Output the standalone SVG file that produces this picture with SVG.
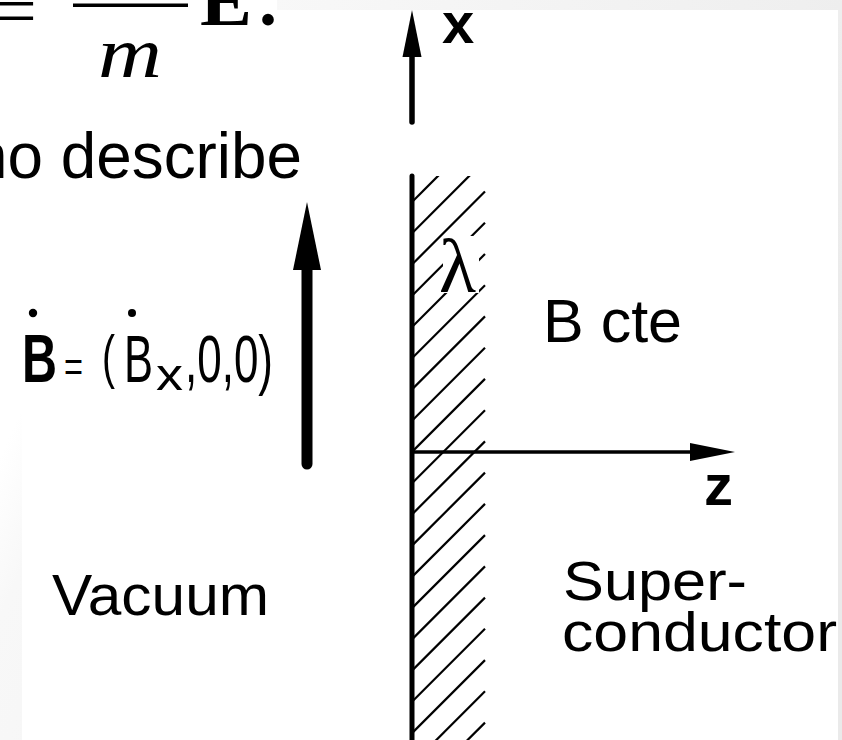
<svg xmlns="http://www.w3.org/2000/svg" width="842" height="740" viewBox="0 0 842 740">
  <defs>
    <linearGradient id="bg" gradientUnits="userSpaceOnUse" x1="0" y1="0" x2="842" y2="370">
      <stop offset="0.2" stop-color="#ffffff"/>
      <stop offset="0.27" stop-color="#f8f8f8"/>
      <stop offset="0.8" stop-color="#efefef"/>
      <stop offset="1" stop-color="#eaeaea"/>
    </linearGradient>
    <clipPath id="hatchClip">
      <rect x="412" y="176" width="74" height="564"/>
    </clipPath>
    <style>
      .sans { font-family: "Liberation Sans", Arial, sans-serif; fill: #000; }
      .serif { font-family: "Liberation Serif", "Times New Roman", serif; fill: #000; }
      .hatch { stroke: #000; stroke-width: 2.2; fill: none; }
      .axis { stroke: #000; fill: none; stroke-linecap: round; }
    </style>
  </defs>

  <!-- slide background -->
  <rect x="0" y="0" width="842" height="740" fill="url(#bg)"/>
  <rect x="0" y="0" width="277" height="12" fill="#ffffff"/>
  <!-- figure background -->
  <rect x="22" y="10" width="816" height="730" fill="#ffffff"/>

  <!-- formula fragment -->
  <g id="formula">
    <text class="serif" x="-4" y="35" font-size="72">=</text>
    <rect x="73" y="3.5" width="115" height="3.5" fill="#000"/>
    <text class="serif" x="200" y="25" font-size="72" font-weight="bold" textLength="52" lengthAdjust="spacingAndGlyphs">E</text>
    <text class="serif" x="259" y="25" font-size="72" font-weight="bold">.</text>
    <text class="serif" x="98" y="77" font-size="72" font-style="italic" textLength="64" lengthAdjust="spacingAndGlyphs">m</text>
  </g>
  <g id="caption">
    <text class="sans" x="-28" y="178" font-size="64" textLength="330" lengthAdjust="spacingAndGlyphs">no describe</text>
  </g>

  <!-- hatch (penetration layer) -->
  <g id="layer" clip-path="url(#hatchClip)">
    <g class="hatch">
      <line x1="412" y1="170.8" x2="485" y2="97.8"/>
      <line x1="412" y1="202" x2="485" y2="129"/>
      <line x1="412" y1="233.2" x2="485" y2="160.2"/>
      <line x1="412" y1="264.5" x2="485" y2="191.5"/>
      <line x1="412" y1="295.7" x2="485" y2="222.7"/>
      <line x1="412" y1="327" x2="485" y2="254"/>
      <line x1="412" y1="358.2" x2="485" y2="285.2"/>
      <line x1="412" y1="389.4" x2="485" y2="316.4"/>
      <line x1="412" y1="420.7" x2="485" y2="347.7"/>
      <line x1="412" y1="451.9" x2="485" y2="378.9"/>
      <line x1="412" y1="483.2" x2="485" y2="410.2"/>
      <line x1="412" y1="514.4" x2="485" y2="441.4"/>
      <line x1="412" y1="545.6" x2="485" y2="472.6"/>
      <line x1="412" y1="576.9" x2="485" y2="503.9"/>
      <line x1="412" y1="608.1" x2="485" y2="535.1"/>
      <line x1="412" y1="639.4" x2="485" y2="566.4"/>
      <line x1="412" y1="670.6" x2="485" y2="597.6"/>
      <line x1="412" y1="701.8" x2="485" y2="628.8"/>
      <line x1="412" y1="733.1" x2="485" y2="660.1"/>
      <line x1="412" y1="764.3" x2="485" y2="691.3"/>
      <line x1="412" y1="795.6" x2="485" y2="722.6"/>
      <line x1="412" y1="826.8" x2="485" y2="753.8"/>
    </g>
  </g>
  <g id="lambda">
    <rect x="443" y="236" width="36" height="57" fill="#ffffff"/>
    <text class="serif" x="439" y="292" font-size="76" textLength="37" lengthAdjust="spacingAndGlyphs">λ</text>
  </g>

  <!-- connectors / axes -->
  <g id="connectors">
    <!-- wall -->
    <line class="axis" x1="412" y1="176" x2="412" y2="742" stroke-width="5"/>
    <!-- x axis -->
    <line class="axis" x1="412" y1="50" x2="412" y2="122" stroke-width="5.5"/>
    <polygon points="412,10 402.5,57 421.5,57" fill="#000"/>
    <!-- z axis -->
    <line x1="412" y1="452" x2="695" y2="452" stroke="#000" stroke-width="3.5"/>
    <polygon points="735,452 690,443 690,461" fill="#000"/>
    <!-- B-dot arrow -->
    <line class="axis" x1="307" y1="262" x2="307" y2="464" stroke-width="11"/>
    <polygon points="307,202 293,270 321,270" fill="#000"/>
  </g>

  <g id="label-x">
    <text class="sans" x="442" y="43" font-size="58" font-weight="bold">x</text>
  </g>
  <g id="label-z">
    <text class="sans" x="704" y="505" font-size="58" font-weight="bold">z</text>
  </g>
  <g id="label-bcte">
    <text class="sans" x="543" y="342" font-size="61">B cte</text>
  </g>
  <g id="label-bdot">
    <circle cx="33" cy="313" r="4.2" fill="#000"/>
    <circle cx="132" cy="313" r="4" fill="#000"/>
    <text class="sans" x="22" y="382" font-size="68" font-weight="bold" textLength="35" lengthAdjust="spacingAndGlyphs">B</text>
    <text class="sans" x="64" y="381" font-size="42" textLength="19" lengthAdjust="spacingAndGlyphs">=</text>
    <text class="sans" x="102" y="377" font-size="60" textLength="13" lengthAdjust="spacingAndGlyphs">(</text>
    <text class="sans" x="124" y="382" font-size="67" textLength="29" lengthAdjust="spacingAndGlyphs">B</text>
    <text class="sans" x="156" y="390" font-size="44" textLength="27" lengthAdjust="spacingAndGlyphs">x</text>
    <text class="sans" x="185" y="382" font-size="67" textLength="88" lengthAdjust="spacingAndGlyphs">,0,0)</text>
  </g>
  <g id="label-vacuum">
    <text class="sans" x="52" y="615" font-size="58" textLength="217" lengthAdjust="spacingAndGlyphs">Vacuum</text>
  </g>
  <g id="label-super">
    <text class="sans" x="563" y="600" font-size="55" textLength="184" lengthAdjust="spacingAndGlyphs">Super-</text>
    <text class="sans" x="562" y="651" font-size="55" textLength="275" lengthAdjust="spacingAndGlyphs">conductor</text>
  </g>
</svg>
